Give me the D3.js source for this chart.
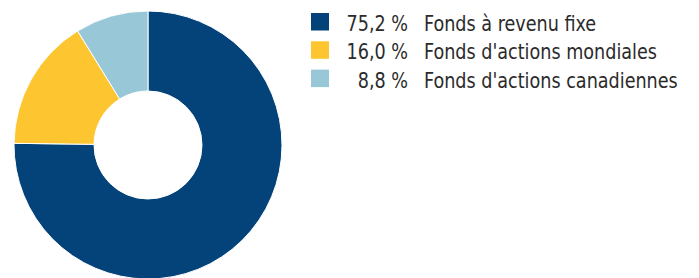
<!DOCTYPE html>
<html>
<head>
<meta charset="utf-8">
<script src="https://cdn.jsdelivr.net/npm/d3@7"></script>
<style>
  body { margin: 0; background: #fff; }
  svg text { font-family: "DejaVu Sans Condensed", "Liberation Sans Narrow", sans-serif; fill: #2b2b2b; }
</style>
</head>
<body>
<svg width="699" height="278"></svg>
<script>
let labels = ["Fonds à revenu fixe", "Fonds d'actions mondiales", "Fonds d'actions canadiennes"];
let values = [75.2, 16.0, 8.8];
let colors = ["#034379", "#fdc630", "#98c8d7"];

let width = 699;
let height = 278;
let cx = 148;
let cy = 145;
let outerR = 134;
let innerR = 54;
let squeeze = 0.91; // the reference font is narrower than DejaVu Condensed

let svg = d3.select("svg")
    .attr("width", width)
    .attr("height", height);

let pie = d3.pie().sort(null).value(d => d);
let arc = d3.arc().innerRadius(innerR).outerRadius(outerR);

svg.append("g")
    .attr("transform", "translate(" + cx + "," + cy + ")")
    .selectAll("path")
    .data(pie(values))
    .enter()
    .append("path")
    .attr("d", arc)
    .attr("fill", (d, i) => colors[i])
    .attr("stroke", "#fff")
    .attr("stroke-width", 1);

let fmt = v => d3.format(".1f")(v).replace(".", ",") + " %";

let legend = svg.append("g")
    .attr("transform", "translate(311, 13)");

let rows = legend.selectAll("g")
    .data(values)
    .enter()
    .append("g")
    .attr("transform", (d, i) => "translate(0," + i * 28.3 + ")");

rows.append("rect")
    .attr("width", 18)
    .attr("height", 17.5)
    .attr("fill", (d, i) => colors[i]);

rows.append("text")
    .attr("transform", "translate(97,18) scale(" + squeeze + ",1)")
    .attr("text-anchor", "end")
    .style("font-size", "21.5px")
    .text(d => fmt(d));

rows.append("text")
    .attr("transform", "translate(113,18) scale(" + squeeze + ",1)")
    .style("font-size", "21.5px")
    .text((d, i) => labels[i]);
</script>
</body>
</html>
